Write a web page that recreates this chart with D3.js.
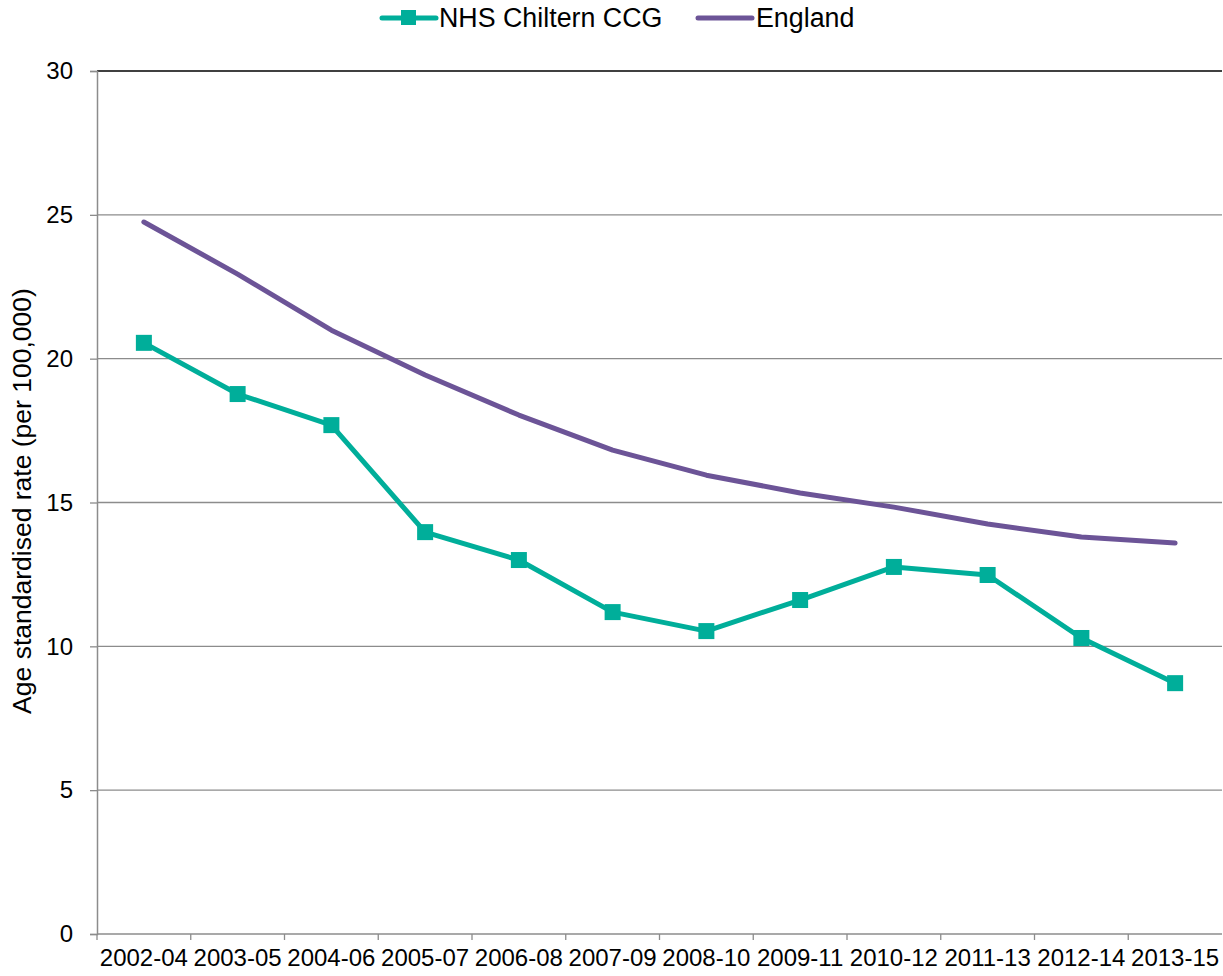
<!DOCTYPE html>
<html lang="en">
<head>
<meta charset="UTF-8">
<title>Age standardised rate</title>
<script src="https://d3js.org/d3.v7.min.js"></script>
<style>
body { margin: 0; background: #fff; }
svg { display: block; font-family: "Liberation Sans", Arial, sans-serif; }
</style>
</head>
<body>
<div id="chart"></div>
<script>
// data
const periods = ["2002-04", "2003-05", "2004-06", "2005-07", "2006-08", "2007-09",
                 "2008-10", "2009-11", "2010-12", "2011-13", "2012-14", "2013-15"];
const chiltern = [20.55, 18.77, 17.69, 13.97, 13.0, 11.19, 10.53, 11.61, 12.76, 12.48, 10.29, 8.72];
const england = [24.75, 22.94, 20.99, 19.43, 18.04, 16.82, 15.95, 15.33, 14.84, 14.25, 13.80, 13.59];
const yTicks = [0, 5, 10, 15, 20, 25, 30];

const width = 1223, height = 976;
const margin = { top: 71, right: 1, bottom: 42, left: 97 };
const tealCol = "#00ae9a", purpleCol = "#6c5497";
const fs = 24;

const svg = d3.select("#chart").append("svg")
    .attr("width", width)
    .attr("height", height);

const x = d3.scaleBand()
    .domain(periods)
    .range([margin.left, width - margin.right]);

const y = d3.scaleLinear()
    .domain([0, 30])
    .range([height - margin.bottom, margin.top]);

// gridlines
svg.append("g")
    .selectAll("line")
    .data(yTicks.filter(d => d > 0))
    .join("line")
    .attr("x1", margin.left)
    .attr("x2", width - margin.right)
    .attr("y1", d => y(d))
    .attr("y2", d => y(d))
    .attr("stroke", d => d === 30 ? "#000" : "#8c8c8c")
    .attr("stroke-width", d => d === 30 ? 1.5 : 1.3);

// y axis
const yAxis = svg.append("g")
    .attr("transform", `translate(${margin.left},0)`)
    .call(d3.axisLeft(y).tickValues(yTicks).tickSize(7).tickPadding(17));
yAxis.attr("font-size", null).attr("font-family", null);
yAxis.select(".domain").attr("stroke", "#8c8c8c").attr("stroke-width", 1.5);
yAxis.selectAll(".tick line").attr("stroke", "#8c8c8c").attr("stroke-width", 1.3);
yAxis.selectAll("text").style("font-size", fs + "px").attr("fill", "#000");

// x axis: ticks at band boundaries
const xAxisG = svg.append("g")
    .attr("transform", `translate(0,${y(0)})`);
xAxisG.append("line")
    .attr("x1", margin.left).attr("x2", width - margin.right)
    .attr("stroke", "#8c8c8c").attr("stroke-width", 1.5);
xAxisG.selectAll("line.tk")
    .data(periods)
    .join("line")
    .attr("class", "tk")
    .attr("x1", d => x(d)).attr("x2", d => x(d))
    .attr("y1", 0).attr("y2", 6)
    .attr("stroke", "#8c8c8c").attr("stroke-width", 1.3);
xAxisG.selectAll("text")
    .data(periods)
    .join("text")
    .attr("x", d => x(d) + x.bandwidth() / 2)
    .attr("y", 32)
    .attr("text-anchor", "middle")
    .style("font-size", fs + "px")
    .text(d => d);

// y label
svg.append("text")
    .attr("transform", `translate(31,501) rotate(-90)`)
    .attr("text-anchor", "middle")
    .style("font-size", "26.5px")
    .text("Age standardised rate (per 100,000)");

const line = d3.line()
    .x((d, i) => x(periods[i]) + x.bandwidth() / 2)
    .y(d => y(d));

svg.append("path")
    .datum(england)
    .attr("d", line)
    .attr("fill", "none")
    .attr("stroke", purpleCol)
    .attr("stroke-width", 5)
    .attr("stroke-linecap", "round")
    .attr("stroke-linejoin", "round");

svg.append("path")
    .datum(chiltern)
    .attr("d", line)
    .attr("fill", "none")
    .attr("stroke", tealCol)
    .attr("stroke-width", 5)
    .attr("stroke-linejoin", "round");

const sq = 16;
svg.selectAll("rect.pt")
    .data(chiltern)
    .join("rect")
    .attr("class", "pt")
    .attr("x", (d, i) => x(periods[i]) + x.bandwidth() / 2 - sq / 2)
    .attr("y", d => y(d) - sq / 2)
    .attr("width", sq)
    .attr("height", sq)
    .attr("fill", tealCol);

// legend
const legend = svg.append("g");
legend.append("line")
    .attr("x1", 382).attr("x2", 436).attr("y1", 18).attr("y2", 18)
    .attr("stroke", tealCol).attr("stroke-width", 5).attr("stroke-linecap", "round");
legend.append("rect")
    .attr("x", 401).attr("y", 10).attr("width", 15).attr("height", 15)
    .attr("fill", tealCol);
legend.append("text")
    .attr("x", 439).attr("y", 27).style("font-size", "26.8px").text("NHS Chiltern CCG");
legend.append("line")
    .attr("x1", 698).attr("x2", 752).attr("y1", 18).attr("y2", 18)
    .attr("stroke", purpleCol).attr("stroke-width", 5).attr("stroke-linecap", "round");
legend.append("text")
    .attr("x", 756).attr("y", 27).style("font-size", "26.8px").text("England");
</script>
</body>
</html>
